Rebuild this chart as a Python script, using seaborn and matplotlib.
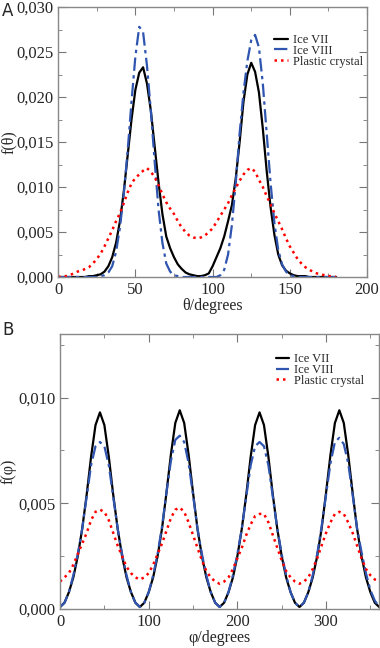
import numpy as np
import pandas as pd
import seaborn as sns
import matplotlib
matplotlib.use('Agg')
import matplotlib.pyplot as plt
from matplotlib.ticker import FuncFormatter, MultipleLocator

# ---- Panel A data: theta distribution ----
theta = np.arange(0, 180.1, 2.5)
ice7_theta = [0.0000, 0.0000, 0.0000, 0.0000, 0.0000, 0.0000, 0.0000, 0.0000, 0.0001, 0.0001,
              0.0002, 0.0003, 0.0006, 0.0012, 0.0022, 0.0038, 0.0062, 0.0095, 0.0135, 0.0175,
              0.0208, 0.0227, 0.0233, 0.0215, 0.0185, 0.0145, 0.0105, 0.0070, 0.0045, 0.0032,
              0.0022, 0.0014, 0.0009, 0.0005, 0.0003, 0.0002, 0.0001, 0.0001, 0.0002, 0.0004,
              0.0012, 0.0022, 0.0032, 0.0045, 0.0062, 0.0080, 0.0110, 0.0150, 0.0195, 0.0225,
              0.0238, 0.0228, 0.0205, 0.0165, 0.0118, 0.0078, 0.0047, 0.0025, 0.0013, 0.0007,
              0.0004, 0.0002, 0.0001, 0.0001, 0.0001, 0.0000, 0.0000, 0.0000, 0.0000, 0.0000,
              0.0000, 0.0000, 0.0000]
ice8_theta = [0.0000, 0.0000, 0.0000, 0.0000, 0.0000, 0.0000, 0.0000, 0.0000, 0.0000, 0.0000,
              0.0000, 0.0001, 0.0002, 0.0005, 0.0012, 0.0028, 0.0055, 0.0092, 0.0140, 0.0195,
              0.0245, 0.0278, 0.0272, 0.0235, 0.0185, 0.0128, 0.0075, 0.0038, 0.0015, 0.0006,
              0.0002, 0.0001, 0.0000, 0.0000, 0.0000, 0.0000, 0.0000, 0.0000, 0.0000, 0.0000,
              0.0000, 0.0000, 0.0002, 0.0008, 0.0025, 0.0058, 0.0105, 0.0160, 0.0205, 0.0240,
              0.0263, 0.0269, 0.0255, 0.0215, 0.0160, 0.0105, 0.0060, 0.0030, 0.0014, 0.0006,
              0.0002, 0.0001, 0.0000, 0.0000, 0.0000, 0.0000, 0.0000, 0.0000, 0.0000, 0.0000,
              0.0000, 0.0000, 0.0000]
plastic_theta = [0.0000, 0.0001, 0.0001, 0.0002, 0.0004, 0.0006, 0.0007, 0.0009, 0.0011, 0.0015,
                 0.0020, 0.0026, 0.0034, 0.0043, 0.0052, 0.0062, 0.0071, 0.0082, 0.0094, 0.0104,
                 0.0110, 0.0114, 0.0118, 0.0121, 0.0117, 0.0111, 0.0102, 0.0092, 0.0083, 0.0076,
                 0.0070, 0.0062, 0.0055, 0.0050, 0.0046, 0.0044, 0.0043, 0.0044, 0.0046, 0.0050,
                 0.0054, 0.0061, 0.0068, 0.0075, 0.0082, 0.0091, 0.0099, 0.0107, 0.0114, 0.0119,
                 0.0121, 0.0117, 0.0108, 0.0100, 0.0090, 0.0081, 0.0071, 0.0062, 0.0053, 0.0043,
                 0.0034, 0.0027, 0.0020, 0.0015, 0.0011, 0.0008, 0.0006, 0.0004, 0.0003, 0.0002,
                 0.0001, 0.0001, 0.0000]

# ---- Panel B data: phi distribution ----
phi = np.arange(0, 360.1, 5)
ice7_phi = [0.0001, 0.0003, 0.0008, 0.0015, 0.0025, 0.0038, 0.0054, 0.0072, 0.0087, 0.0093,
            0.0087, 0.0072, 0.0054, 0.0038, 0.0025, 0.0015, 0.0008, 0.0003, 0.0001,
            0.0003, 0.0008, 0.0015, 0.0025, 0.0038, 0.0055, 0.0073, 0.0088, 0.0094,
            0.0088, 0.0073, 0.0055, 0.0038, 0.0025, 0.0015, 0.0008, 0.0003, 0.0001,
            0.0003, 0.0008, 0.0015, 0.0025, 0.0038, 0.0054, 0.0072, 0.0087, 0.0093,
            0.0087, 0.0072, 0.0054, 0.0038, 0.0025, 0.0015, 0.0008, 0.0003, 0.0001,
            0.0003, 0.0008, 0.0015, 0.0025, 0.0038, 0.0055, 0.0073, 0.0088, 0.0094,
            0.0088, 0.0073, 0.0055, 0.0038, 0.0025, 0.0015, 0.0008, 0.0003, 0.0001]
ice8_phi = [0.0001, 0.0003, 0.0008, 0.0016, 0.0026, 0.0038, 0.0053, 0.0068, 0.0077, 0.0079,
            0.0077, 0.0068, 0.0053, 0.0038, 0.0026, 0.0016, 0.0008, 0.0003, 0.0001,
            0.0003, 0.0008, 0.0016, 0.0026, 0.0039, 0.0055, 0.0070, 0.0080, 0.0082,
            0.0079, 0.0069, 0.0054, 0.0038, 0.0026, 0.0016, 0.0008, 0.0003, 0.0001,
            0.0003, 0.0008, 0.0016, 0.0026, 0.0038, 0.0053, 0.0068, 0.0077, 0.0079,
            0.0077, 0.0068, 0.0053, 0.0038, 0.0026, 0.0016, 0.0008, 0.0003, 0.0001,
            0.0003, 0.0008, 0.0016, 0.0026, 0.0039, 0.0054, 0.0069, 0.0079, 0.0081,
            0.0078, 0.0069, 0.0054, 0.0038, 0.0027, 0.0017, 0.0009, 0.0004, 0.0001]
plastic_phi = [0.0013, 0.0015, 0.0017, 0.0021, 0.0026, 0.0031, 0.0036, 0.0042, 0.0046, 0.0047,
               0.0046, 0.0042, 0.0036, 0.0030, 0.0025, 0.0020, 0.0017, 0.0015, 0.0014,
               0.0015, 0.0017, 0.0021, 0.0026, 0.0031, 0.0037, 0.0043, 0.0047, 0.0048,
               0.0046, 0.0041, 0.0035, 0.0029, 0.0023, 0.0018, 0.0015, 0.0013, 0.0012,
               0.0013, 0.0015, 0.0019, 0.0024, 0.0029, 0.0035, 0.0040, 0.0044, 0.0045,
               0.0045, 0.0041, 0.0035, 0.0029, 0.0023, 0.0018, 0.0015, 0.0013, 0.0012,
               0.0013, 0.0015, 0.0019, 0.0024, 0.0030, 0.0036, 0.0041, 0.0045, 0.0046,
               0.0045, 0.0041, 0.0036, 0.0030, 0.0024, 0.0019, 0.0016, 0.0014, 0.0013]

labels = ['Ice VII', 'Ice VIII', 'Plastic crystal']
colors = ['black', '#2f55b0', 'red']
styles = ['-', (0, (6, 2, 1.5, 2)), (0, (1, 1.6))]
widths = [1.6, 1.6, 1.8]

sns.set_style('ticks')
plt.rcParams['font.family'] = ['Liberation Serif', 'DejaVu Serif']

fig = plt.figure(figsize=(3.8, 6.48), dpi=100)
axA = fig.add_axes([0.153, 0.5725, 0.813, 0.4167])
axB = fig.add_axes([0.158, 0.060, 0.840, 0.4244])

comma = FuncFormatter(lambda v, pos: f'{v:.3f}'.replace('.', ','))


def draw(ax, x, series, leg_anchor):
    for ys, lab, c, ls, lw in zip(series, labels, colors, styles, widths):
        df = pd.DataFrame({'x': x, 'y': ys})
        sns.lineplot(data=df, x='x', y='y', ax=ax, color=c, linestyle=ls,
                     linewidth=lw, label=lab)
    ax.yaxis.set_major_formatter(comma)
    ax.tick_params(which='both', direction='in', top=True, right=True,
                   color='#777777', labelsize=12)
    ax.tick_params(which='major', length=6)
    ax.tick_params(which='minor', length=3)
    for s in ax.spines.values():
        s.set_color('#888888')
        s.set_linewidth(1.0)
    ax.legend(loc='upper left', bbox_to_anchor=leg_anchor, frameon=False,
              fontsize=9, handlelength=1.1, labelspacing=-0.1,
              handletextpad=0.4, borderpad=0, borderaxespad=0)


draw(axA, theta, [ice7_theta, ice8_theta, plastic_theta], (0.70, 0.90))
axA.set_xlim(0, 200)
axA.set_ylim(0, 0.030)
axA.xaxis.set_major_locator(MultipleLocator(50))
axA.xaxis.set_minor_locator(MultipleLocator(25))
axA.yaxis.set_major_locator(MultipleLocator(0.005))
axA.yaxis.set_minor_locator(MultipleLocator(0.0025))
axA.set_xlabel('θ/degrees', fontsize=11.5, labelpad=0)
axA.set_ylabel('f(θ)', fontsize=11.5, va='center')
axA.yaxis.set_label_coords(-0.160, 0.5)

draw(axB, phi, [ice7_phi, ice8_phi, plastic_phi], (0.675, 0.93))
axB.set_xlim(0, 360)
axB.set_ylim(0, 0.013)
axB.xaxis.set_major_locator(MultipleLocator(100))
axB.xaxis.set_minor_locator(MultipleLocator(50))
axB.yaxis.set_major_locator(MultipleLocator(0.005))
axB.yaxis.set_minor_locator(MultipleLocator(0.0025))
axB.set_xlabel('φ/degrees', fontsize=11.5, labelpad=0)
axB.set_ylabel('f(φ)', fontsize=11.5, va='center')
axB.yaxis.set_label_coords(-0.160, 0.5)

fig.text(0.005, 0.997, 'A', fontsize=12, family='DejaVu Sans', va='top')
fig.text(0.005, 0.505, 'B', fontsize=12, family='DejaVu Sans', va='top')

fig.savefig('out.png', dpi=100)
